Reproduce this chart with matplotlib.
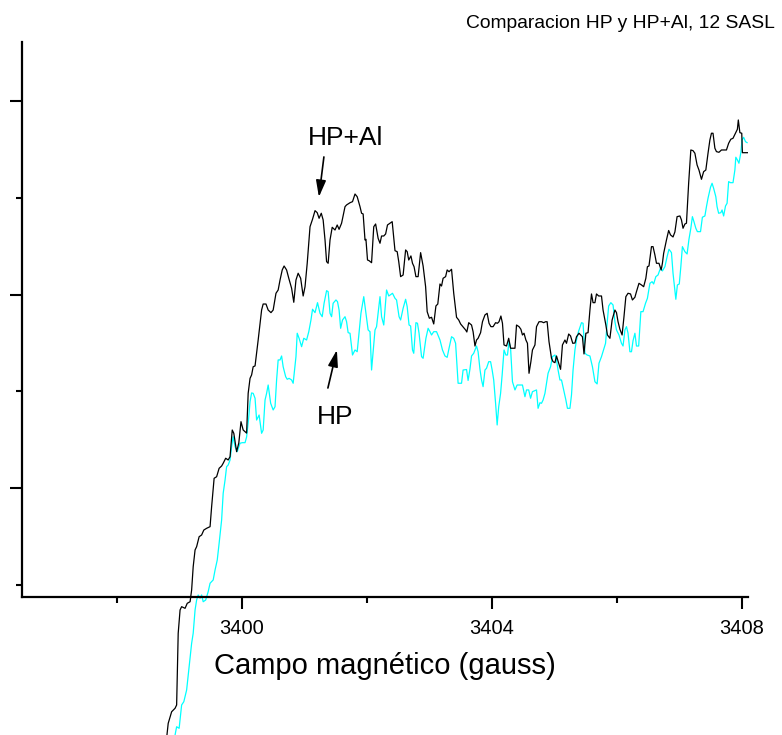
import numpy as np
import matplotlib
matplotlib.use("Agg")
import matplotlib.pyplot as plt

# ESR spectra: (field in gauss, signal in arbitrary units)
hp_al = [
    (3398.80, -15.50), (3398.82, -14.30), (3398.875, -13.10), (3398.93, -12.74), (3398.955, -12.40),
    (3398.98, -4.99), (3399.01, -2.58), (3399.035, -2.24), (3399.09, -2.41), (3399.125, -1.89),
    (3399.17, -1.73), (3399.195, -0.52), (3399.22, 1.89), (3399.25, 3.62), (3399.275, 3.96),
    (3399.315, 4.99), (3399.355, 5.17), (3399.39, 5.68), (3399.435, 5.86), (3399.49, 6.03),
    (3399.515, 8.09), (3399.555, 11.03), (3399.595, 11.19), (3399.635, 12.06), (3399.675, 12.30),
    (3399.70, 12.58), (3399.74, 13.10), (3399.78, 12.92), (3399.81, 13.26), (3399.845, 16.02),
    (3399.87, 15.68), (3399.915, 13.78), (3399.95, 14.68), (3399.985, 16.88), (3400.02, 16.02),
    (3400.05, 15.85), (3400.075, 15.70), (3400.10, 19.81), (3400.13, 21.36), (3400.155, 21.71),
    (3400.18, 22.56), (3400.21, 22.64), (3400.26, 25.32), (3400.315, 28.42), (3400.34, 29.04),
    (3400.385, 29.04), (3400.42, 28.42), (3400.465, 28.15), (3400.50, 28.42), (3400.545, 30.15),
    (3400.58, 30.49), (3400.61, 31.52), (3400.645, 32.56), (3400.675, 32.97), (3400.715, 32.56),
    (3400.75, 31.70), (3400.795, 30.67), (3400.83, 29.22), (3400.865, 31.52), (3400.90, 32.22),
    (3400.94, 31.70), (3400.98, 29.87), (3401.01, 30.83), (3401.045, 33.25), (3401.09, 37.03),
    (3401.13, 37.80), (3401.17, 38.69), (3401.205, 38.48), (3401.235, 37.90), (3401.27, 38.42),
    (3401.30, 37.73), (3401.33, 35.66), (3401.355, 33.42), (3401.38, 33.25), (3401.41, 35.66),
    (3401.445, 36.97), (3401.49, 36.69), (3401.525, 37.21), (3401.555, 36.76), (3401.595, 37.39),
    (3401.65, 39.10), (3401.675, 39.28), (3401.73, 39.51), (3401.77, 39.62), (3401.81, 40.41),
    (3401.845, 40.13), (3401.89, 39.10), (3401.915, 38.42), (3401.94, 38.35), (3401.97, 35.66),
    (3401.985, 35.73), (3402.01, 33.59), (3402.035, 33.52), (3402.075, 33.31), (3402.11, 37.03),
    (3402.14, 37.31), (3402.18, 35.83), (3402.21, 35.32), (3402.235, 36.07), (3402.27, 36.07),
    (3402.30, 36.28), (3402.33, 37.21), (3402.37, 37.39), (3402.405, 37.55), (3402.45, 34.55),
    (3402.485, 34.45), (3402.51, 33.42), (3402.54, 31.87), (3402.58, 32.04), (3402.62, 34.63),
    (3402.645, 34.45), (3402.67, 33.59), (3402.705, 34.01), (3402.73, 33.25), (3402.755, 32.90),
    (3402.785, 31.87), (3402.82, 31.87), (3402.86, 34.35), (3402.90, 32.97), (3402.94, 30.83),
    (3402.965, 28.25), (3403.00, 27.57), (3403.035, 27.67), (3403.07, 26.98), (3403.105, 28.84),
    (3403.135, 29.04), (3403.17, 31.11), (3403.195, 30.90), (3403.22, 31.70), (3403.26, 31.87),
    (3403.285, 32.56), (3403.315, 32.38), (3403.355, 32.63), (3403.39, 30.15), (3403.435, 27.67),
    (3403.47, 27.39), (3403.50, 26.98), (3403.54, 26.67), (3403.58, 26.36), (3403.60, 26.15),
    (3403.63, 27.11), (3403.675, 26.87), (3403.70, 26.18), (3403.73, 24.70), (3403.755, 25.32),
    (3403.78, 25.50), (3403.82, 26.08), (3403.85, 27.21), (3403.89, 27.91), (3403.925, 28.08),
    (3403.955, 27.05), (3403.985, 26.70), (3404.02, 26.70), (3404.06, 27.11), (3404.09, 27.05),
    (3404.115, 27.21), (3404.145, 27.80), (3404.17, 27.05), (3404.195, 24.81), (3404.235, 24.70),
    (3404.27, 25.50), (3404.30, 24.47), (3404.37, 24.47), (3404.395, 26.87), (3404.435, 26.70),
    (3404.465, 26.43), (3404.49, 25.84), (3404.515, 26.02), (3404.545, 25.32), (3404.57, 24.98),
    (3404.595, 21.88), (3404.625, 23.08), (3404.65, 24.29), (3404.69, 24.81), (3404.715, 26.70),
    (3404.755, 27.21), (3404.795, 27.21), (3404.83, 27.11), (3404.86, 27.21), (3404.885, 27.21),
    (3404.915, 25.15), (3404.955, 23.43), (3404.98, 23.08), (3405.01, 22.98), (3405.035, 23.67),
    (3405.07, 22.92), (3405.10, 22.29), (3405.13, 24.81), (3405.17, 25.32), (3405.195, 24.98),
    (3405.23, 25.94), (3405.26, 25.74), (3405.295, 24.98), (3405.33, 25.01), (3405.355, 25.66),
    (3405.395, 26.02), (3405.45, 25.66), (3405.475, 23.88), (3405.505, 26.02), (3405.54, 26.08),
    (3405.57, 28.42), (3405.595, 30.08), (3405.62, 29.18), (3405.65, 29.18), (3405.675, 30.08),
    (3405.71, 29.87), (3405.755, 29.87), (3405.78, 28.42), (3405.825, 26.87), (3405.85, 25.84),
    (3405.89, 25.50), (3405.925, 27.39), (3405.97, 28.42), (3405.995, 28.15), (3406.02, 27.21),
    (3406.05, 26.43), (3406.085, 25.84), (3406.115, 27.73), (3406.145, 29.80), (3406.18, 30.15),
    (3406.22, 30.08), (3406.25, 29.46), (3406.29, 29.74), (3406.315, 30.32), (3406.355, 31.18),
    (3406.395, 31.01), (3406.43, 30.83), (3406.465, 31.70), (3406.49, 32.90), (3406.515, 32.97),
    (3406.555, 34.97), (3406.58, 34.97), (3406.61, 34.11), (3406.635, 33.25), (3406.675, 33.25),
    (3406.71, 32.56), (3406.73, 33.25), (3406.75, 34.28), (3406.795, 35.66), (3406.83, 36.64),
    (3406.86, 36.18), (3406.90, 35.97), (3406.93, 36.49), (3406.965, 38.07), (3407.01, 38.14),
    (3407.035, 37.73), (3407.06, 36.87), (3407.09, 37.31), (3407.115, 37.39), (3407.15, 41.52),
    (3407.185, 44.96), (3407.22, 44.89), (3407.25, 44.62), (3407.285, 43.41), (3407.315, 42.89),
    (3407.355, 41.93), (3407.39, 42.72), (3407.425, 42.89), (3407.46, 44.62), (3407.49, 45.99),
    (3407.515, 46.69), (3407.54, 46.69), (3407.57, 45.14), (3407.595, 44.79), (3407.635, 44.72),
    (3407.675, 44.96), (3407.755, 44.96), (3407.79, 45.65), (3407.825, 46.07), (3407.86, 46.17),
    (3407.90, 46.69), (3407.93, 47.10), (3407.945, 48.06), (3407.97, 46.75), (3408.00, 46.69),
    (3408.01, 44.68), (3408.09, 44.68),
]

hp = [
    (3398.93, -15.50), (3398.955, -14.65), (3398.995, -14.81), (3399.035, -12.40), (3399.07, -12.06),
    (3399.115, -10.85), (3399.155, -8.44), (3399.195, -6.03), (3399.22, -4.99), (3399.25, -2.58),
    (3399.275, -1.55), (3399.30, -1.03), (3399.33, -1.37), (3399.355, -1.03), (3399.38, -1.73),
    (3399.42, -1.55), (3399.46, -0.69), (3399.49, 0.18), (3399.54, 0.52), (3399.57, 1.55),
    (3399.605, 2.58), (3399.635, 4.31), (3399.675, 6.72), (3399.70, 9.48), (3399.73, 10.85),
    (3399.755, 12.23), (3399.78, 12.40), (3399.81, 12.92), (3399.835, 14.30), (3399.86, 15.33),
    (3399.89, 14.30), (3399.925, 13.78), (3399.97, 14.65), (3400.005, 14.71), (3400.05, 14.71),
    (3400.075, 15.30), (3400.105, 17.05), (3400.13, 18.95), (3400.155, 19.85), (3400.18, 19.81),
    (3400.21, 19.30), (3400.235, 17.05), (3400.275, 17.57), (3400.315, 15.68), (3400.34, 16.02),
    (3400.37, 19.12), (3400.395, 19.81), (3400.42, 20.67), (3400.46, 18.78), (3400.50, 18.09),
    (3400.53, 18.43), (3400.555, 21.19), (3400.58, 23.26), (3400.61, 23.26), (3400.635, 23.67),
    (3400.66, 22.56), (3400.70, 21.53), (3400.725, 21.26), (3400.755, 21.36), (3400.795, 21.19),
    (3400.82, 20.85), (3400.865, 23.60), (3400.885, 26.02), (3400.915, 25.50), (3400.955, 24.63),
    (3400.99, 25.50), (3401.035, 25.32), (3401.07, 26.18), (3401.105, 27.39), (3401.13, 28.50),
    (3401.17, 28.15), (3401.21, 29.18), (3401.25, 28.08), (3401.285, 27.73), (3401.315, 29.12),
    (3401.355, 30.42), (3401.38, 30.32), (3401.41, 28.08), (3401.435, 27.73), (3401.46, 29.12),
    (3401.505, 29.46), (3401.53, 29.28), (3401.555, 28.42), (3401.58, 26.53), (3401.61, 27.39),
    (3401.65, 27.73), (3401.675, 27.21), (3401.70, 26.08), (3401.73, 26.02), (3401.77, 23.77),
    (3401.81, 24.29), (3401.845, 24.11), (3401.905, 28.08), (3401.95, 29.80), (3401.985, 28.08),
    (3402.02, 26.36), (3402.05, 26.18), (3402.075, 22.22), (3402.13, 26.36), (3402.155, 26.70),
    (3402.21, 29.80), (3402.235, 27.73), (3402.27, 26.87), (3402.315, 30.49), (3402.35, 29.87),
    (3402.41, 30.15), (3402.45, 29.63), (3402.475, 29.46), (3402.515, 27.73), (3402.54, 27.39),
    (3402.58, 28.60), (3402.62, 29.53), (3402.645, 28.77), (3402.675, 26.87), (3402.70, 26.77),
    (3402.73, 24.29), (3402.75, 23.95), (3402.785, 27.11), (3402.81, 27.05), (3402.835, 26.02),
    (3402.875, 23.60), (3402.90, 23.43), (3402.945, 25.50), (3402.98, 26.53), (3403.01, 26.18),
    (3403.035, 25.84), (3403.07, 26.18), (3403.115, 26.18), (3403.17, 25.32), (3403.21, 24.29),
    (3403.25, 23.67), (3403.285, 23.53), (3403.315, 24.47), (3403.355, 25.66), (3403.39, 25.50),
    (3403.42, 24.98), (3403.46, 20.85), (3403.515, 20.85), (3403.54, 22.22), (3403.595, 22.27),
    (3403.62, 21.14), (3403.65, 22.33), (3403.675, 23.67), (3403.71, 23.95), (3403.755, 24.70),
    (3403.78, 24.11), (3403.81, 22.29), (3403.835, 21.19), (3403.86, 20.50), (3403.89, 22.22),
    (3403.915, 22.40), (3403.95, 23.08), (3403.98, 23.08), (3404.005, 22.22), (3404.03, 21.19),
    (3404.06, 18.78), (3404.085, 16.54), (3404.11, 18.43), (3404.14, 19.81), (3404.165, 21.71),
    (3404.195, 24.29), (3404.225, 23.77), (3404.25, 23.77), (3404.275, 25.15), (3404.30, 24.47),
    (3404.33, 21.01), (3404.37, 20.16), (3404.405, 20.67), (3404.49, 20.67), (3404.53, 19.46),
    (3404.555, 20.16), (3404.59, 20.16), (3404.62, 19.30), (3404.65, 19.98), (3404.715, 20.16),
    (3404.74, 18.26), (3404.77, 18.84), (3404.795, 18.78), (3404.82, 19.12), (3404.85, 19.81),
    (3404.875, 20.85), (3404.90, 21.88), (3404.94, 22.56), (3404.97, 23.60), (3405.01, 23.77),
    (3405.035, 23.26), (3405.06, 22.22), (3405.09, 21.19), (3405.115, 21.19), (3405.15, 20.16),
    (3405.185, 19.12), (3405.21, 18.26), (3405.25, 18.26), (3405.275, 19.64), (3405.30, 22.22),
    (3405.33, 24.29), (3405.355, 25.32), (3405.385, 26.15), (3405.435, 27.11), (3405.46, 27.05),
    (3405.49, 23.95), (3405.525, 23.77), (3405.57, 23.67), (3405.61, 22.56), (3405.65, 21.01),
    (3405.685, 20.78), (3405.715, 22.92), (3405.755, 23.60), (3405.79, 24.36), (3405.82, 24.98),
    (3405.845, 27.05), (3405.87, 28.84), (3405.905, 29.18), (3405.94, 28.94), (3405.97, 27.21),
    (3405.995, 26.36), (3406.035, 25.84), (3406.075, 24.98), (3406.10, 24.70), (3406.13, 26.36),
    (3406.155, 26.70), (3406.18, 26.02), (3406.21, 24.11), (3406.235, 24.11), (3406.26, 25.25),
    (3406.29, 26.02), (3406.315, 24.70), (3406.35, 24.70), (3406.385, 28.25), (3406.42, 28.25),
    (3406.46, 29.12), (3406.49, 29.63), (3406.53, 31.18), (3406.565, 31.35), (3406.59, 31.11),
    (3406.625, 31.87), (3406.66, 32.04), (3406.70, 32.77), (3406.73, 32.46), (3406.77, 32.90),
    (3406.805, 33.93), (3406.835, 34.70), (3406.875, 34.35), (3406.90, 32.22), (3406.93, 30.49),
    (3406.945, 29.53), (3406.97, 31.01), (3407.00, 31.11), (3407.025, 32.90), (3407.05, 34.97),
    (3407.09, 34.45), (3407.125, 34.21), (3407.155, 35.73), (3407.185, 36.87), (3407.21, 38.07),
    (3407.235, 37.55), (3407.265, 36.87), (3407.29, 36.52), (3407.34, 36.52), (3407.37, 38.01),
    (3407.41, 38.14), (3407.435, 39.10), (3407.46, 39.97), (3407.50, 41.11), (3407.525, 41.52),
    (3407.55, 41.00), (3407.585, 40.13), (3407.605, 39.10), (3407.63, 38.42), (3407.665, 38.48),
    (3407.685, 38.76), (3407.71, 38.14), (3407.74, 39.17), (3407.765, 39.45), (3407.79, 41.69),
    (3407.82, 41.58), (3407.86, 41.58), (3407.89, 42.89), (3407.905, 44.21), (3407.93, 43.93),
    (3407.955, 43.59), (3407.985, 44.68), (3408.005, 45.99), (3408.03, 46.27), (3408.06, 45.82),
    (3408.085, 45.72),
]

field_major = [3400, 3404, 3408]
field_minor = [3398, 3402, 3406]
signal_major = [10, 30, 50]
signal_minor = [0, 20, 40]

title = "Comparacion HP y HP+Al, 12 SASL"
xlabel = "Campo magnético (gauss)"

plt.rcParams["font.family"] = ["Liberation Sans", "DejaVu Sans"]

hp_al_field, hp_al_signal = np.array(hp_al).T
hp_field, hp_signal = np.array(hp).T

fig = plt.figure(figsize=(7.82, 7.35), dpi=100)
ax = fig.add_axes([22 / 782, 138 / 735, 726 / 782, 555 / 735])

# the traces run past the bottom of the frame in the original, so no clipping
ax.plot(hp_field, hp_signal, color="#00ffff", lw=0.9, clip_on=False)
ax.plot(hp_al_field, hp_al_signal, color="black", lw=0.9, clip_on=False)

ax.set_xlim(3396.48, 3408.10)
ax.set_ylim(-1.24, 56.12)

for side in ("top", "right"):
    ax.spines[side].set_visible(False)
for side in ("left", "bottom"):
    ax.spines[side].set_linewidth(1.6)

ax.set_xticks(field_major)
ax.set_xticks(field_minor, minor=True)
ax.set_yticks(signal_major)
ax.set_yticks(signal_minor, minor=True)
ax.tick_params(which="major", direction="out", length=8.6, width=1.5,
               labelsize=14.5, pad=7)
ax.tick_params(which="minor", direction="out", length=4.3, width=1.5)
ax.tick_params(axis="y", which="both", labelleft=False)

ax.set_xlabel(xlabel, fontsize=21, va="baseline")
ax.xaxis.set_label_coords(0.5, -0.1387)

fig.text(775 / 782, 1 - 27.5 / 735, title, ha="right", va="baseline",
         fontsize=13.9)

# labels with arrows
ax.text(3401.664, 45.48, "HP+Al", ha="center", va="baseline", fontsize=19)
ax.text(3401.488, 16.64, "HP", ha="center", va="baseline", fontsize=19)
arrow = dict(arrowstyle="-|>,head_length=0.5,head_width=0.15", color="black",
             lw=1.2, mutation_scale=20, shrinkA=0, shrinkB=0)
ax.annotate("", xy=(3401.232, 40.10), xytext=(3401.312, 44.24), arrowprops=arrow)
ax.annotate("", xy=(3401.52, 24.29), xytext=(3401.376, 20.36), arrowprops=arrow)

fig.savefig("out.png", dpi=100)
